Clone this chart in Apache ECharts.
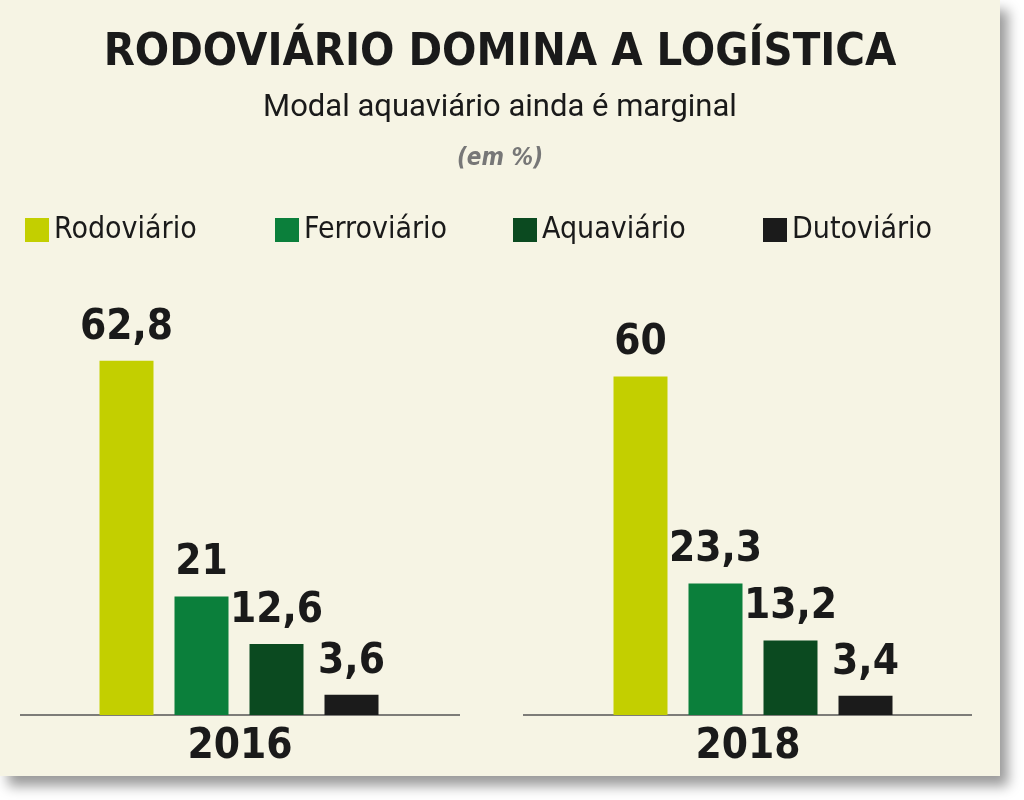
<!DOCTYPE html>
<html><head><meta charset="utf-8">
<script src="https://cdn.jsdelivr.net/npm/echarts@6/dist/echarts.min.js"></script>
<style>
body{margin:0;background:#fff;width:1024px;height:800px;overflow:hidden}
#chart{position:absolute;left:0;top:0;width:1000px;height:776px;background:#f6f4e4;box-shadow:8px 10px 12px #9a9a9a}
</style></head><body>
<div id="chart"></div>
<script>
const modais = ['Rodoviário', 'Ferroviário', 'Aquaviário', 'Dutoviário'];
const cores = ['#c3cf00', '#0b7f3b', '#0b4a20', '#1b1b1b'];
const anos = ['2016', '2018'];
const valores2016 = [62.8, 21, 12.6, 3.6];
const valores2018 = [60, 23.3, 13.2, 3.4];

const chart = echarts.init(document.getElementById('chart'));
const cond = '"Liberation Sans Narrow", "DejaVu Sans Condensed", sans-serif';

function fmt(v) { return String(v).replace('.', ','); }

// 4 series por grade, sobrepostas, cada uma só com a sua categoria
function seriesDaGrade(vals, idx) {
    return modais.map((m, i) => ({
        name: m,
        type: 'bar',
        xAxisIndex: idx,
        yAxisIndex: idx,
        barWidth: 54,
        barGap: '-100%',
        itemStyle: { color: cores[i] },
        label: {
            show: true, position: 'top', distance: 12,
            fontFamily: cond, fontWeight: 'bold', fontSize: 42, color: '#1a1a1a',
            formatter: p => fmt(p.value)
        },
        data: modais.map((_, j) => j === i ? vals[i] : '-')
    }));
}

const legendLefts = [20, 270, 508, 758];

chart.setOption({
    animation: false,
    title: [
        { text: 'RODOVIÁRIO DOMINA A LOGÍSTICA', left: 'center', top: 26,
          textStyle: { fontFamily: cond, fontWeight: 'bold', fontSize: 45, color: '#1a1a1a' } },
        { text: 'Modal aquaviário ainda é marginal', left: 'center', top: 88,
          textStyle: { fontFamily: 'Roboto, sans-serif', fontWeight: 'normal', fontSize: 31, color: '#1a1a1a' } },
        { text: '(em %)', left: 'center', top: 142,
          textStyle: { fontFamily: cond, fontStyle: 'italic', fontWeight: 'bold', fontSize: 24, color: '#777' } }
    ],
    legend: modais.map((m, i) => ({
        data: [m], left: legendLefts[i], top: 210, itemWidth: 24, itemHeight: 24, icon: 'rect',
        textStyle: { fontFamily: cond, fontSize: 30, color: '#1a1a1a' }
    })),
    grid: [
        { left: 89, width: 300, top: 320, bottom: 776 - 715 },
        { left: 603, width: 300, top: 320, bottom: 776 - 715 }
    ],
    xAxis: [0, 1].map(i => ({
        type: 'category', gridIndex: i, data: modais,
        axisLine: { show: false }, axisTick: { show: false }, axisLabel: { show: false }
    })),
    yAxis: [0, 1].map(i => ({
        type: 'value', gridIndex: i, min: 0, max: 70, show: false, splitLine: { show: false }
    })),
    graphic: [
        { type: 'line', shape: { x1: 20, y1: 715, x2: 460, y2: 715 }, style: { stroke: '#555', lineWidth: 1.5 } },
        { type: 'line', shape: { x1: 523, y1: 715, x2: 972, y2: 715 }, style: { stroke: '#555', lineWidth: 1.5 } },
        { type: 'text', x: 240, y: 726, style: { text: anos[0], align: 'center', font: 'bold 42px ' + cond, fill: '#1a1a1a' } },
        { type: 'text', x: 748, y: 726, style: { text: anos[1], align: 'center', font: 'bold 42px ' + cond, fill: '#1a1a1a' } }
    ],
    series: seriesDaGrade(valores2016, 0).concat(seriesDaGrade(valores2018, 1))
});
</script>
</body></html>
